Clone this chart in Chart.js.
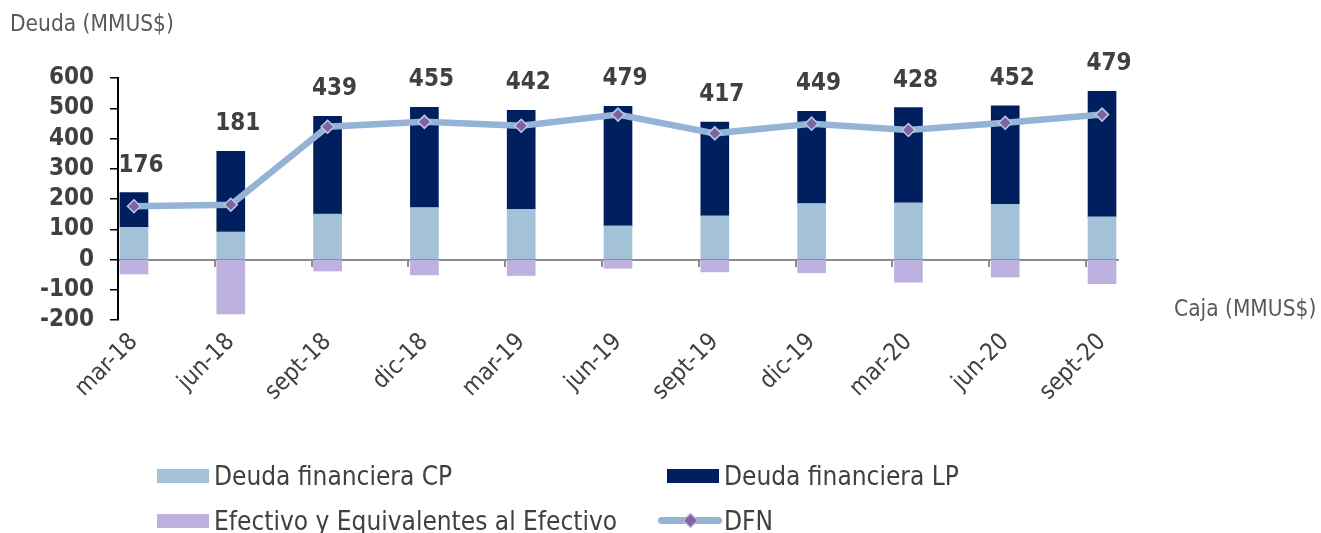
<!DOCTYPE html>
<html>
<head>
<meta charset="utf-8">
<script src="https://cdn.jsdelivr.net/npm/chart.js@4.4.0/dist/chart.umd.min.js"></script>
<style>
  body { margin: 0; background: #fff; }
  #wrap { position: relative; width: 1321px; height: 533px; overflow: hidden; font-family: "DejaVu Sans Condensed", "DejaVu Sans", sans-serif; font-stretch: condensed; }
  .axis-title { position: absolute; color: #595959; font-size: 22.5px; white-space: nowrap; }
  #legend { position: absolute; left: 157px; top: 453px; display: grid; grid-template-columns: 510px auto; grid-auto-rows: 45px; }
  .item { display: flex; align-items: center; color: #404040; font-size: 26px; white-space: nowrap; }
  .box { width: 52px; height: 14px; margin-right: 5px; }
  .lineSw { position: relative; width: 64px; height: 7px; border-radius: 4px; margin-left: -9px; margin-right: 2px; }
  .lineSw i { position: absolute; left: 27px; top: -2px; width: 9px; height: 9px; transform: rotate(45deg); border: 1px solid #b8cce4; }
</style>
</head>
<body>
<div id="wrap">
  <canvas id="c"></canvas>
  <div class="axis-title" style="left:10px; top:10px;">Deuda (MMUS$)</div>
  <div class="axis-title" style="left:1174px; top:295px;">Caja (MMUS$)</div>
  <div id="legend"></div>
</div>
<script>
const quarters = ['mar-18', 'jun-18', 'sept-18', 'dic-18', 'mar-19', 'jun-19', 'sept-19', 'dic-19', 'mar-20', 'jun-20', 'sept-20'];
const deudaCP = [106, 91, 150, 172, 166, 111, 144, 185, 187, 182, 141];
const deudaLP = [115, 267, 323, 331, 327, 395, 310, 305, 315, 326, 415];
const efectivo = [-48, -180, -38, -51, -53, -29, -41, -44, -75, -58, -80];
const dfn = [176, 181, 439, 455, 442, 479, 417, 449, 428, 452, 479];
const yTicks = [-200, -100, 0, 100, 200, 300, 400, 500, 600];

// bars sit a bit right of the category boundary ticks, like the Excel original
const SHIFT = 0.165;
const X_MIN = -SHIFT;
const X_MAX = quarters.length - 1 + SHIFT;
const FONT = '"DejaVu Sans Condensed", "DejaVu Sans", sans-serif';

Chart.defaults.font.family = FONT;

const pts = arr => arr.map((v, i) => ({ x: i, y: v }));

// DFN value labels above each stack
const dfnLabels = {
  id: 'dfnLabels',
  afterDatasetsDraw(chart) {
    const { ctx, scales: { x, y } } = chart;
    ctx.save();
    ctx.font = 'bold 24px ' + FONT;
    ctx.fillStyle = '#404040';
    ctx.textAlign = 'center';
    ctx.textBaseline = 'alphabetic';
    dfn.forEach((v, i) => {
      const top = y.getPixelForValue(deudaCP[i] + deudaLP[i]);
      ctx.fillText(String(v), x.getPixelForValue(i) + 7, top - 21);
    });
    ctx.restore();
  }
};

const chart = new Chart(document.getElementById('c'), {
  type: 'bar',
  data: {
    datasets: [
      { label: 'Deuda financiera CP', data: pts(deudaCP), backgroundColor: '#a3c2d8', stack: 'deuda', barThickness: 28, order: 2 },
      { label: 'Deuda financiera LP', data: pts(deudaLP), backgroundColor: '#001f5f', stack: 'deuda', barThickness: 28, order: 2 },
      { label: 'Efectivo y Equivalentes al Efectivo', data: pts(efectivo), backgroundColor: '#bdb1e0', stack: 'deuda', barThickness: 28, order: 2 },
      {
        type: 'line', label: 'DFN', data: pts(dfn), stack: 'dfn', order: 0,
        borderColor: '#95b3d7', borderWidth: 6.5, tension: 0,
        pointStyle: 'rectRot', pointRadius: 6.5, pointBackgroundColor: '#8064a2',
        pointBorderColor: '#b8cce4', pointBorderWidth: 1.5
      }
    ]
  },
  options: {
    responsive: true,
    maintainAspectRatio: false,
    animation: false,
    layout: { padding: { left: 0, top: 78, right: 203, bottom: 113 } },
    plugins: {
      legend: { display: false },
      tooltip: { enabled: false }
    },
    scales: {
      x: {
        type: 'linear', min: X_MIN, max: X_MAX, offset: false,
        afterBuildTicks: s => { s.ticks = quarters.map((q, i) => ({ value: i })); },
        afterFit: s => { s.height = 100; },
        ticks: {
          callback: v => quarters[v], autoSkip: false,
          minRotation: 45, maxRotation: 45, padding: 0,
          color: '#404040', font: { size: 24 }
        },
        grid: { display: false, offset: false },
        border: { display: false }
      },
      x2: {
        type: 'linear', axis: 'x', position: { y: 0 }, min: X_MIN, max: X_MAX, offset: false,
        afterBuildTicks: s => { s.ticks = quarters.map((q, i) => ({ value: i - SHIFT })); },
        ticks: { display: false, autoSkip: false },
        grid: { offset: false, drawOnChartArea: false, drawTicks: true, tickLength: 6, color: '#8c8c8c', lineWidth: 2 },
        border: { color: '#8c8c8c', width: 2 }
      },
      y: {
        stacked: true, min: -200, max: 600,
        afterBuildTicks: s => { s.ticks = yTicks.map(v => ({ value: v })); },
        afterFit: s => { s.width = 118; },
        ticks: { autoSkip: false, padding: 16, color: '#404040', font: { size: 24, weight: 'bold' } },
        grid: { drawOnChartArea: false, tickLength: 8, color: '#000', lineWidth: 1.5 },
        border: { color: '#000', width: 2 }
      }
    }
  },
  plugins: [dfnLabels]
});

// legend in the two-column layout of the original
const legend = document.getElementById('legend');
chart.data.datasets.forEach(ds => {
  const item = document.createElement('div');
  item.className = 'item';
  let sw;
  if (ds.type === 'line') {
    sw = document.createElement('span');
    sw.className = 'lineSw';
    sw.style.background = ds.borderColor;
    const d = document.createElement('i');
    d.style.background = ds.pointBackgroundColor;
    sw.appendChild(d);
  } else {
    sw = document.createElement('span');
    sw.className = 'box';
    sw.style.background = ds.backgroundColor;
  }
  item.appendChild(sw);
  item.appendChild(document.createTextNode(ds.label));
  legend.appendChild(item);
});
</script>
</body>
</html>
